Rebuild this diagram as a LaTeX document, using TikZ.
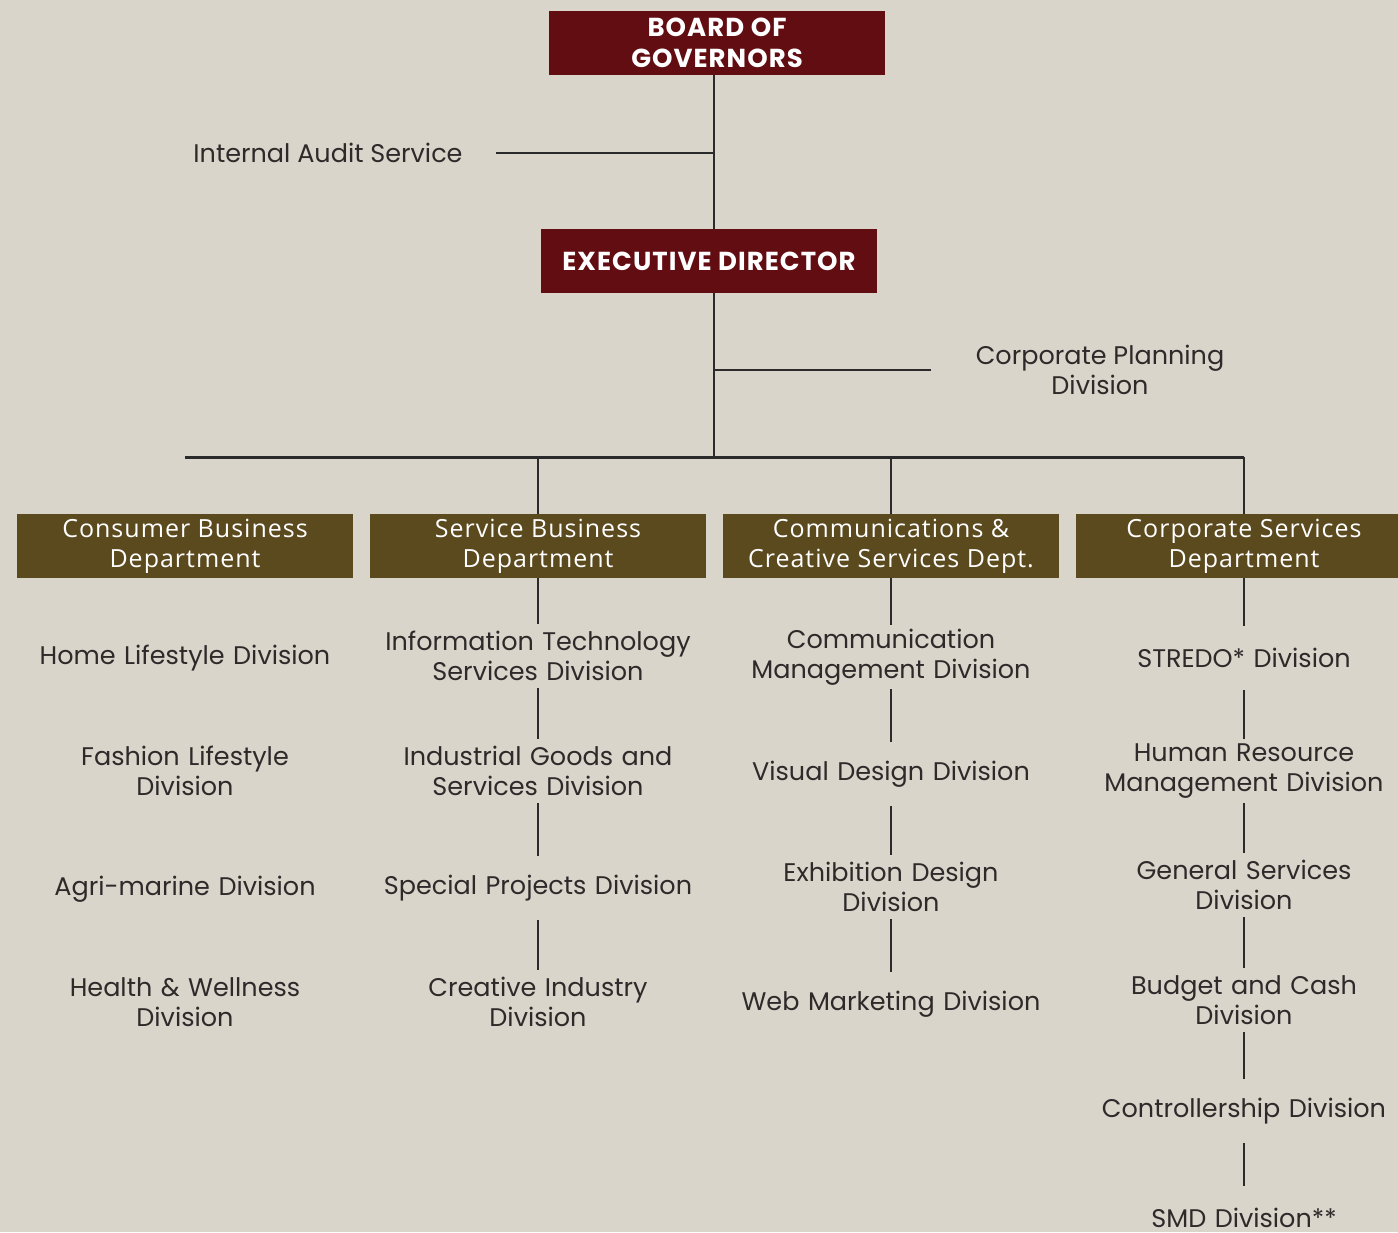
\documentclass[tikz,border=0pt]{standalone}
\usepackage{fontspec}
\setmainfont{Poppins}
\newfontfamily\deptfont[LetterSpace=4]{Open Sans}
\newfontfamily\headfont[LetterSpace=4]{Poppins}
\definecolor{paper}{HTML}{D9D5CB}
\definecolor{boardred}{HTML}{620D12}
\definecolor{deptbrown}{HTML}{5C4A1F}
\definecolor{inkline}{HTML}{2B2B2B}
\definecolor{inktext}{HTML}{2E2A2A}

\begin{document}
\begin{tikzpicture}
[x=1pt,y=-1pt,
every node/.style={
  font=\fontsize{25.5}{30}\selectfont, text=inktext
},
head/.style={
  fill=boardred, text=white, minimum width=336pt, minimum height=64pt,
  inner sep=0pt, align=center, font=\headfont\bfseries\fontsize{26}{31}\selectfont
},
dept/.style={
  fill=deptbrown, text=white, minimum width=336pt, minimum height=64pt,
  inner sep=0pt, align=center, font=\deptfont\fontsize{25}{30}\selectfont
},
division/.style={
  text width=340pt, align=center, minimum height=64pt, inner sep=0pt
},
link/.style={draw=inkline, line width=2pt},
bus/.style={draw=inkline, line width=3pt}
]

% background
\fill[paper] (0,0) rectangle (1398,1232);
\useasboundingbox (0,0) rectangle (1398,1232);

% Board and director
\node[head] (board) at (717,43) {BOARD OF\\GOVERNORS};
\node[head] (exec) at (709,261) {EXECUTIVE DIRECTOR};
\coordinate (hub) at (714,457);
\node (audit) at (328,153) {Internal Audit Service};
\node[align=center] (plan) at (1100,370) {Corporate Planning\\Division};

% Departments
\node[dept] (cons) at (185,546) {Consumer Business\\Department};
\node[dept] (serv) at (538,546) {Service Business\\Department};
\node[dept] (comm) at (891,546) {Communications \&\\Creative Services Dept.};
\node[dept] (corp) at (1244,546) {Corporate Services\\Department};

% Consumer Business divisions
\node[division] (c1) at (185,658) {Home Lifestyle Division};
\node[division] (c2) at (185,771) {Fashion Lifestyle\\Division};
\node[division] (c3) at (185,889) {Agri-marine Division};
\node[division] (c4) at (185,1002) {Health \& Wellness\\Division};

% Service Business divisions
\node[division] (s1) at (538,656) {Information Technology\\Services Division};
\node[division] (s2) at (538,771) {Industrial Goods and\\Services Division};
\node[division] (s3) at (538,888) {Special Projects Division};
\node[division] (s4) at (538,1002) {Creative Industry\\Division};

% Communications divisions
\node[division] (m1) at (891,657) {Communication\\Management Division};
\node[division] (m2) at (891,774) {Visual Design Division};
\node[division] (m3) at (891,887) {Exhibition Design\\Division};
\node[division] (m4) at (891,1004) {Web Marketing Division};

% Corporate Services divisions
\node[division] (p1) at (1244,658) {STREDO* Division};
\node[division] (p2) at (1244,771) {Human Resource\\Management Division};
\node[division] (p3) at (1244,885) {General Services\\Division};
\node[division] (p4) at (1244,1000) {Budget and Cash\\Division};
\node[division] (p5) at (1244,1111) {Controllership Division};
\node[division] (p6) at (1244,1218) {SMD Division**};

% top connectors
\draw[link] (board.south -| hub) -- (exec.north -| hub);
\draw[link] (exec.south -| hub) -- (hub);
\draw[link, shorten <=30pt] (audit.east) -- (audit.east -| hub);
\draw[link, shorten >=41pt] (plan.west -| hub) -- (plan.west);

% bus to departments
\draw[bus] (cons.north |- hub) -- (corp.north |- hub);
\draw[link] (serv.north |- hub) -- (serv.north);
\draw[link] (comm.north |- hub) -- (comm.north);
\draw[link] (corp.north |- hub) -- (corp.north);

% column connectors
\draw[link] (serv) -- (s1) (s1) -- (s2) (s2) -- (s3) (s3) -- (s4);
\draw[link] (comm) -- (m1) (m1) -- (m2) (m2) -- (m3) (m3) -- (m4);
\draw[link] (corp) -- (p1) (p1) -- (p2) (p2) -- (p3) (p3) -- (p4)
  (p4) -- (p5) (p5) -- (p6);

\end{tikzpicture}
\end{document}
